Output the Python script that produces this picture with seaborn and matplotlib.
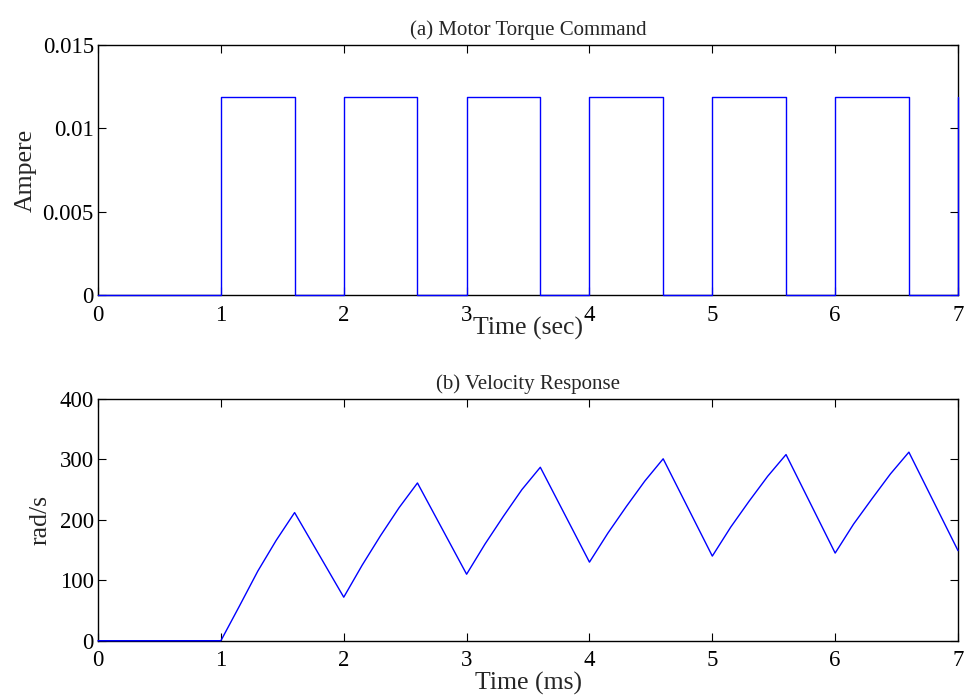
import matplotlib
matplotlib.use("Agg")
import matplotlib.pyplot as plt
import seaborn as sns
import pandas as pd

# (a) torque command: switching times and level held after each time
cmd_time = [0, 1, 1.6, 2, 2.6, 3, 3.6, 4, 4.6, 5, 5.6, 6, 6.6, 7]
cmd_amp = [0, 0.0119, 0, 0.0119, 0, 0.0119, 0, 0.0119, 0, 0.0119, 0, 0.0119, 0, 0.0119]

# (b) velocity response
vel_time = [0, 1, 1.15, 1.3, 1.45, 1.6, 2,
            2.15, 2.3, 2.45, 2.6, 3,
            3.15, 3.3, 3.45, 3.6, 4,
            4.15, 4.3, 4.45, 4.6, 5,
            5.15, 5.3, 5.45, 5.6, 6,
            6.15, 6.3, 6.45, 6.6, 7]
vel_rad = [0, 0, 57, 115, 166, 212, 72,
           125, 174, 220, 261, 110,
           160, 206, 250, 287, 130,
           178, 222, 264, 301, 140,
           188, 231, 272, 308, 145,
           193, 235, 276, 312, 149]

sns.set_style("ticks")
plt.rcParams["font.family"] = ["Liberation Serif", "DejaVu Serif"]

fig = plt.figure(figsize=(9.64, 6.98), dpi=100)
ax1 = fig.add_axes([0.1017, 0.5774, 0.8921, 0.3582])
ax2 = fig.add_axes([0.1017, 0.0821, 0.8921, 0.3463])

cmd = pd.DataFrame({"t": cmd_time, "a": cmd_amp})
vel = pd.DataFrame({"t": vel_time, "v": vel_rad})

sns.lineplot(data=cmd, x="t", y="a", ax=ax1, color="#0000ff", linewidth=1.0,
             drawstyle="steps-post", estimator=None, sort=False, zorder=3, clip_on=False)
sns.lineplot(data=vel, x="t", y="v", ax=ax2, color="#0000ff", linewidth=1.0,
             estimator=None, sort=False, zorder=3, clip_on=False)

ax1.set_xlim(0, 7)
ax1.set_ylim(0, 0.015)
ax1.set_yticks([0, 0.005, 0.01, 0.015])
ax1.set_yticklabels(["0", "0.005", "0.01", "0.015"])
ax1.set_title("(a) Motor Torque Command", fontsize=15, pad=7)
ax1.set_ylabel("Ampere", fontsize=18.5, labelpad=4)
ax1.set_xlabel("Time (sec)", fontsize=18.5, labelpad=-6)

ax2.set_xlim(0, 7)
ax2.set_ylim(0, 400)
ax2.set_yticks([0, 100, 200, 300, 400])
ax2.set_title("(b) Velocity Response", fontsize=15, pad=7)
ax2.set_ylabel("rad/s", fontsize=18.5, labelpad=6)
ax2.set_xlabel("Time (ms)", fontsize=18.5, labelpad=0.5)

for ax in (ax1, ax2):
    ax.set_xticks(range(0, 8))
    ax.tick_params(direction="in", top=True, right=True, length=6, width=0.8,
                   labelsize=16.5, colors="black")
    ax.tick_params(axis="x", pad=7)
    ax.tick_params(axis="y", pad=3)
    for spine in ax.spines.values():
        spine.set_visible(True)
        spine.set_linewidth(1.0)
        spine.set_color("black")

fig.savefig("out.png", dpi=100)
